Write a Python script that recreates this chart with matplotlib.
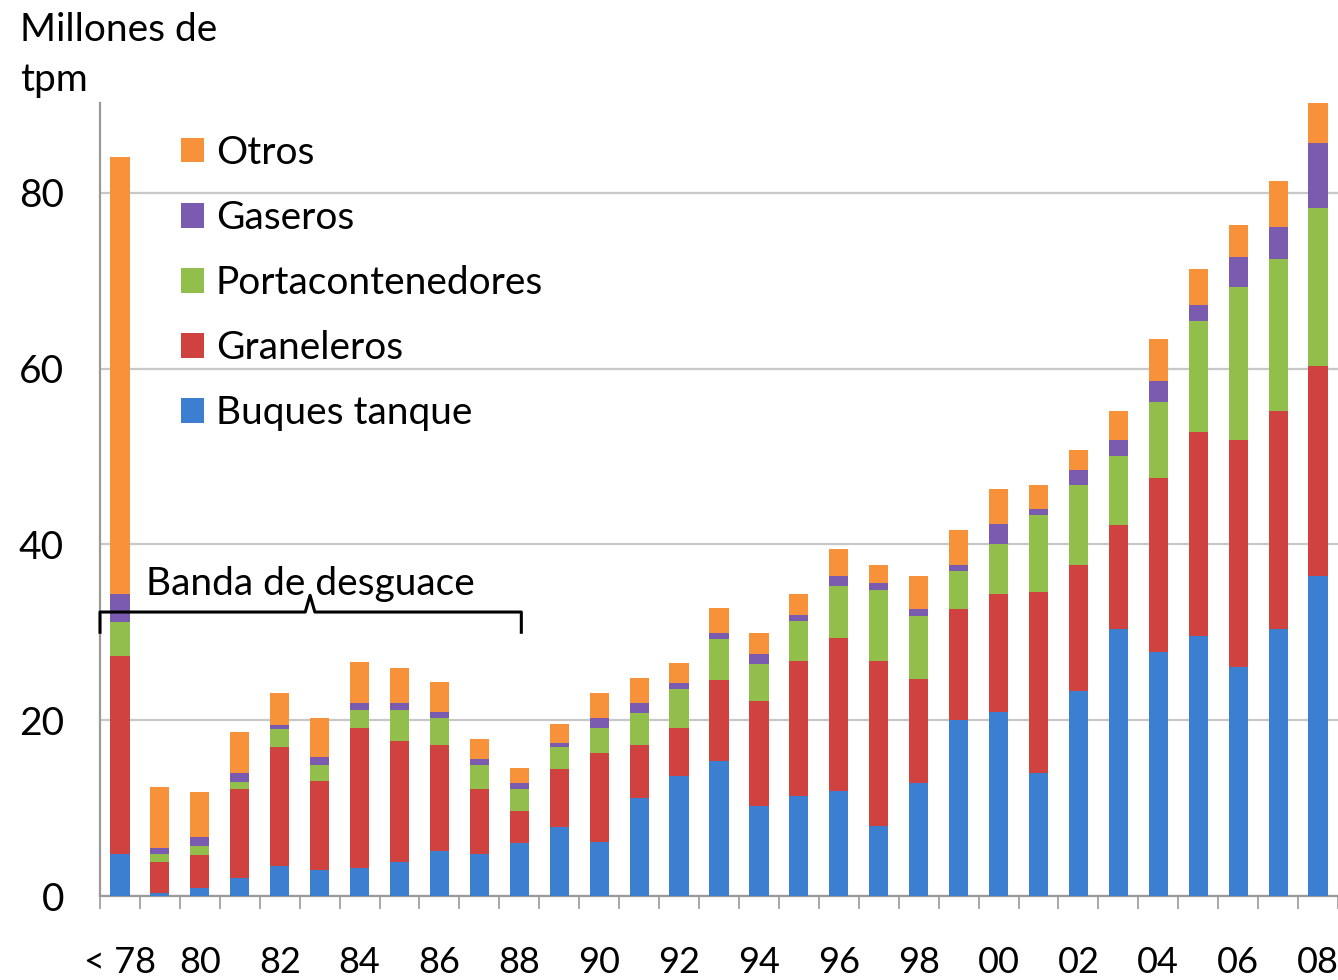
import matplotlib
matplotlib.use("Agg")
import matplotlib.pyplot as plt
import numpy as np

plt.rcParams['font.family'] = ['Lato', 'DejaVu Sans']

categories = ["< 78", "79", "80", "81", "82", "83", "84", "85", "86", "87", "88",
              "89", "90", "91", "92", "93", "94", "95", "96", "97", "98",
              "99", "00", "01", "02", "03", "04", "05", "06", "07", "08"]

buques_tanque = [4.8, 0.3, 0.9, 2.1, 3.4, 3.0, 3.2, 3.9, 5.1, 4.8, 6.0,
                 7.8, 6.1, 11.1, 13.6, 15.3, 10.2, 11.4, 11.9, 8.0, 12.9,
                 20.0, 20.9, 14.0, 23.3, 30.4, 27.8, 29.6, 26.0, 30.4, 36.4]
graneleros = [22.5, 3.6, 3.8, 10.1, 13.6, 10.1, 15.9, 13.7, 12.1, 7.4, 3.7,
              6.6, 10.2, 6.1, 5.5, 9.3, 12.0, 15.3, 17.5, 18.7, 11.8,
              12.7, 13.4, 20.6, 14.3, 11.8, 19.7, 23.2, 25.9, 24.8, 23.9]
portacontenedores = [3.9, 0.9, 1.0, 0.8, 2.0, 1.8, 2.1, 3.6, 3.1, 2.7, 2.5,
                     2.5, 2.8, 3.6, 4.5, 4.6, 4.2, 4.6, 5.9, 8.1, 7.1,
                     4.3, 5.7, 8.7, 9.1, 7.9, 8.7, 12.6, 17.4, 17.3, 18.0]
gaseros = [3.1, 0.7, 1.0, 1.0, 0.4, 0.9, 0.8, 0.8, 0.6, 0.7, 0.6,
           0.5, 1.2, 1.2, 0.6, 0.7, 1.1, 0.7, 1.1, 0.8, 0.9,
           0.6, 2.3, 0.7, 1.8, 1.8, 2.4, 1.8, 3.4, 3.6, 7.4]
otros = [49.8, 6.9, 5.1, 4.6, 3.7, 4.5, 4.6, 3.9, 3.4, 2.3, 1.8,
         2.2, 2.8, 2.8, 2.3, 2.9, 2.4, 2.4, 3.1, 2.1, 3.7,
         4.0, 4.0, 2.7, 2.2, 3.3, 4.8, 4.1, 3.6, 5.2, 4.6]

series_names = ["Buques tanque", "Graneleros", "Portacontenedores", "Gaseros", "Otros"]
series_colors = ["#3c7fd1", "#d0423f", "#92bf4b", "#7a5bb0", "#f7923a"]
y_ticks = [0, 20, 40, 60, 80]
annotation_text = "Banda de desguace"
y_label = "Millones de\ntpm"

fig = plt.figure(figsize=(13.38, 9.8), dpi=100)
ax = fig.add_axes([100/1338, 1 - 896/980, 1238/1338, (896 - 103)/980])

x = np.arange(len(categories))
bottom = np.zeros(len(categories))
handles = []
for name, vals, col in zip(series_names,
                           [buques_tanque, graneleros, portacontenedores, gaseros, otros],
                           series_colors):
    vals = np.array(vals)
    b = ax.bar(x, vals, width=0.48, bottom=bottom, color=col, label=name, zorder=3)
    handles.append(b)
    bottom += vals

ax.set_xlim(-0.5, len(categories) - 0.5)
ax.set_ylim(0, 90.2)
ax.set_yticks(y_ticks)
ax.set_yticklabels([str(v) for v in y_ticks], fontsize=28)
ax.tick_params(axis='y', length=0, pad=26)
ax.yaxis.grid(True, color="#c8c8c8", linewidth=1.6, zorder=0)

# x ticks: labels every other category, tick marks at category boundaries
ax.set_xticks(x[::2])
ax.set_xticklabels(categories[::2], fontsize=26)
ax.tick_params(axis='x', length=0, pad=36)
ax.set_xticks(np.arange(len(categories) + 1) - 0.5, minor=True)
ax.tick_params(axis='x', which='minor', length=9, color="#9a9a9a", width=1.2)

for s in ["top", "right"]:
    ax.spines[s].set_visible(False)
ax.spines["left"].set_color("#9a9a9a")
ax.spines["left"].set_linewidth(1.6)
ax.spines["bottom"].set_color("#9a9a9a")
ax.spines["bottom"].set_linewidth(1.6)

fig.text(20/1338, 1 - 12/980, y_label, fontsize=28, va="top", ha="left",
         linespacing=1.5)

leg = ax.legend(handles[::-1], series_names[::-1], loc="upper left",
                bbox_to_anchor=(0.037, 1.004), frameon=False, fontsize=28,
                handlelength=0.6, handleheight=0.6, handletextpad=0.3,
                labelspacing=0.75)

# bracket "Banda de desguace"
xl, xr, xm = -0.5, 10.05, 4.76
yb, yh, yp = 30.0, 32.3, 34.2
ax.plot([xl, xl, xm - 0.12, xm, xm + 0.12, xr, xr],
        [yb, yh, yh, yp, yh, yh, yb], color="black", linewidth=2.2,
        zorder=5, solid_joinstyle="round", clip_on=False)
ax.text(xm, 35.5, annotation_text, fontsize=28, ha="center", va="center",
        zorder=6)

fig.savefig("out.png", dpi=100, facecolor="white")
